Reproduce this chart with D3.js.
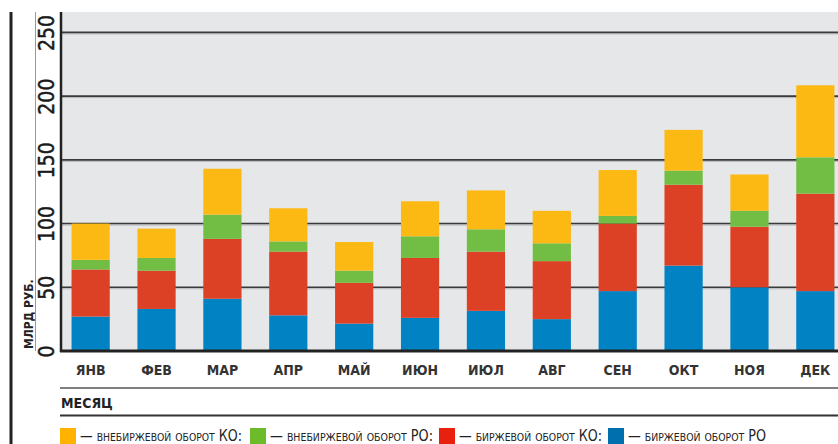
<!DOCTYPE html>
<html>
<head>
<meta charset="utf-8">
<script src="https://cdn.jsdelivr.net/npm/d3@7"></script>
<style>
  body { margin: 0; background: #fff; }
  text { font-family: 'Liberation Sans Narrow', 'DejaVu Sans Condensed', 'Liberation Sans', sans-serif; }
</style>
</head>
<body>
<svg id="canvas"></svg>
<script>
// ----------------------------------- datos -----------------------------------
let months = ['ЯНВ', 'ФЕВ', 'МАР', 'АПР', 'МАЙ', 'ИЮН', 'ИЮЛ', 'АВГ', 'СЕН', 'ОКТ', 'НОЯ', 'ДЕК']

// биржевой оборот РО (синий)
let exchangeRO = [27, 33, 41, 28, 21.5, 26, 31.5, 25, 47, 67, 50, 47]
// биржевой оборот КО (красный)
let exchangeKO = [37, 30, 47, 50, 32, 47, 46.5, 45.5, 53, 63.5, 47.5, 76.5]
// внебиржевой оборот РО (зелёный)
let otcRO = [7.5, 10, 19, 8, 9.5, 17, 17.5, 14, 6, 11, 12.5, 28.5]
// внебиржевой оборот КО (жёлтый)
let otcKO = [28.5, 23, 36, 26, 22.5, 27.5, 30.5, 25.5, 36, 32, 28.5, 56.5]

let yTicks = [0, 50, 100, 150, 200, 250]

let seriesKeys = ['exchangeRO', 'exchangeKO', 'otcRO', 'otcKO']
let barColors = ['#0082c3', '#dc4126', '#72be44', '#fdb913']
let legendColors = ['#ffb300', '#6cbb2a', '#e8200e', '#006fae']
let legendLabels = [
  '— внебиржевой оборот КО:',
  '— внебиржевой оборот РО:',
  '— биржевой оборот КО:',
  '— биржевой оборот РО'
]
let legendX = [60, 250, 439, 608]
let legendTextWidth = [162, 163, 143, 138]

// ----------------------------------- medidas -----------------------------------
let width = 838
let height = 444
let plotLeft = 61
let plotTop = 12
let plotBottom = 351

let canvas = d3.select('#canvas')
canvas.attr('width', width)
canvas.attr('height', height)

let xScale
let yScale

let rows = months.map((m, i) => {
  return {month: m, exchangeRO: exchangeRO[i], exchangeKO: exchangeKO[i], otcRO: otcRO[i], otcKO: otcKO[i]}
})

let generateScales = () => {
  xScale = d3.scaleBand()
    .domain(months)
    .range([plotLeft, 845])
    .paddingInner(0.42)
    .paddingOuter(0.16)

  yScale = d3.scaleLinear()
    .domain([0, 266])
    .range([plotBottom, plotTop])
}

let drawBackground = () => {
  // fondo gris del área del gráfico
  canvas.append('rect')
    .attr('x', plotLeft)
    .attr('y', plotTop)
    .attr('width', width - plotLeft)
    .attr('height', plotBottom - plotTop)
    .attr('fill', '#e6e7e9')

  // líneas de la cuadrícula (línea oscura + sombra clara)
  let grid = canvas.append('g')
  grid.selectAll('line.shadow')
    .data(yTicks.filter(t => t > 0))
    .enter()
    .append('line')
    .attr('class', 'shadow')
    .attr('x1', plotLeft)
    .attr('x2', width)
    .attr('y1', t => yScale(t) + 1.5)
    .attr('y2', t => yScale(t) + 1.5)
    .attr('stroke', '#b4b5b7')
    .attr('stroke-width', 1)
  grid.selectAll('line.main')
    .data(yTicks.filter(t => t > 0))
    .enter()
    .append('line')
    .attr('class', 'main')
    .attr('x1', plotLeft)
    .attr('x2', width)
    .attr('y1', t => yScale(t))
    .attr('y2', t => yScale(t))
    .attr('stroke', '#3a3a3a')
    .attr('stroke-width', 1.6)
}

let drawBars = () => {
  let stacked = d3.stack().keys(seriesKeys)(rows)

  canvas.append('g')
    .selectAll('g')
    .data(stacked)
    .enter()
    .append('g')
    .attr('fill', (d, i) => barColors[i])
    .selectAll('rect')
    .data(d => d)
    .enter()
    .append('rect')
    .attr('x', d => xScale(d.data.month))
    .attr('y', d => yScale(d[1]))
    .attr('width', xScale.bandwidth())
    .attr('height', d => yScale(d[0]) - yScale(d[1]))
}

let drawAxes = () => {
  // eje y con etiquetas giradas
  let yAxis = d3.axisLeft(yScale)
    .tickValues(yTicks)
    .tickSize(0)
    .tickFormat(d3.format('d'))

  let yG = canvas.append('g')
    .attr('transform', 'translate(' + plotLeft + ', 0)')
    .call(yAxis)
  yG.select('.domain').remove()
  yG.selectAll('text')
    .attr('x', 0)
    .attr('dy', 0)
    .attr('transform', 'translate(-7, 0) rotate(-90)')
    .attr('text-anchor', 'middle')
    .attr('font-size', 21)
    .attr('font-family', null)
    .attr('fill', '#1a1a1a')
    .attr('stroke', '#1a1a1a')
    .attr('stroke-width', 0.5)

  // eje x: sólo los nombres de los meses
  let xAxis = d3.axisBottom(xScale).tickSize(0)
  let xG = canvas.append('g')
    .attr('transform', 'translate(0, ' + plotBottom + ')')
    .call(xAxis)
  xG.select('.domain').remove()
  xG.selectAll('text')
    .attr('y', 24)
    .attr('dy', 0)
    .attr('font-size', 14)
    .attr('font-weight', 'bold')
    .attr('font-family', null)
    .attr('fill', '#333')

  // líneas de los ejes
  canvas.append('line')
    .attr('x1', plotLeft).attr('x2', plotLeft)
    .attr('y1', plotTop).attr('y2', plotBottom + 1)
    .attr('stroke', '#222').attr('stroke-width', 2.5)
  canvas.append('line')
    .attr('x1', plotLeft - 1).attr('x2', width)
    .attr('y1', plotBottom).attr('y2', plotBottom)
    .attr('stroke', '#222').attr('stroke-width', 3)

  // título del eje y
  canvas.append('text')
    .attr('transform', 'translate(33, ' + (plotBottom - 2) + ') rotate(-90)')
    .attr('font-size', 12)
    .attr('font-weight', 'bold')
    .attr('fill', '#222')
    .text('МЛРД РУБ.')
}

let drawFrame = () => {
  // línea gruesa de la izquierda y línea fina
  canvas.append('line')
    .attr('x1', 11).attr('x2', 11)
    .attr('y1', plotTop).attr('y2', height)
    .attr('stroke', '#222').attr('stroke-width', 3)
  canvas.append('line')
    .attr('x1', 35.5).attr('x2', 35.5)
    .attr('y1', plotTop).attr('y2', plotBottom)
    .attr('stroke', '#999').attr('stroke-width', 1)

  // bloque "МЕСЯЦ"
  canvas.append('line')
    .attr('x1', 60).attr('x2', width)
    .attr('y1', 388).attr('y2', 388)
    .attr('stroke', '#555').attr('stroke-width', 1.5)
  canvas.append('text')
    .attr('x', 61).attr('y', 408)
    .attr('font-size', 14)
    .attr('font-weight', 'bold')
    .attr('fill', '#222')
    .text('МЕСЯЦ')
  canvas.append('line')
    .attr('x1', 60).attr('x2', width)
    .attr('y1', 415.5).attr('y2', 415.5)
    .attr('stroke', '#333').attr('stroke-width', 2)
}

let drawLegend = () => {
  let items = canvas.append('g')
    .selectAll('g')
    .data(legendLabels)
    .enter()
    .append('g')
    .attr('transform', (d, i) => 'translate(' + legendX[i] + ', 428)')

  items.append('rect')
    .attr('width', 16)
    .attr('height', 16)
    .attr('fill', (d, i) => legendColors[i])

  items.append('text')
    .attr('x', 20)
    .attr('y', 12.5)
    .attr('font-size', 15)
    .attr('font-variant', 'small-caps')
    .attr('fill', '#222')
    .attr('textLength', (d, i) => legendTextWidth[i])
    .attr('lengthAdjust', 'spacingAndGlyphs')
    .text(d => d)
}

generateScales()
drawBackground()
drawBars()
drawAxes()
drawFrame()
drawLegend()
</script>
</body>
</html>
